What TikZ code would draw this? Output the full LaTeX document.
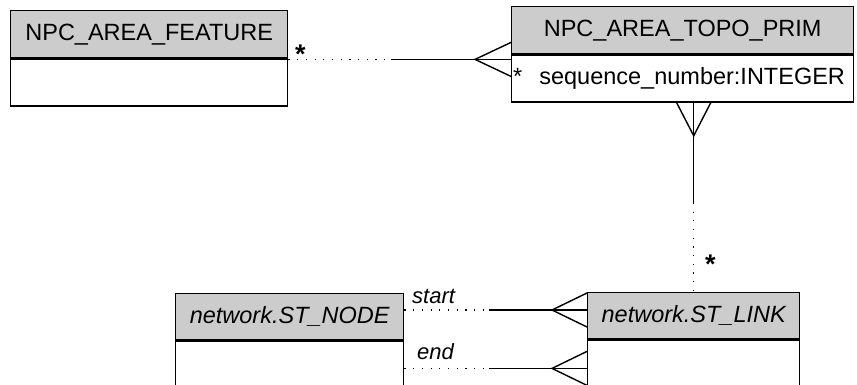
\documentclass[tikz,border=0pt]{standalone}
\usepackage{fontspec}
\setmainfont{Liberation Sans}
\usetikzlibrary{calc}
\definecolor{hdrgray}{HTML}{CCCCCC}
\begin{document}
\begin{tikzpicture}[x=1pt,y=-1pt,
  boxline/.style={draw=black, line width=1.4pt},
  hdr/.style={boxline, fill=hdrgray, inner sep=0pt, anchor=north west,
    font=\fontsize{23.5}{27}\selectfont},
  bodybox/.style={boxline, fill=white, inner sep=0pt, anchor=north west},
  solidline/.style={draw=black, line width=1.4pt},
  dotline/.style={draw=black, line width=1.2pt, dash pattern=on 1.2pt off 7.5pt},
  lbl/.style={inner sep=0pt, anchor=base west, font=\fontsize{22}{26}\selectfont\itshape},
  mult/.style={inner sep=0pt, anchor=base west, font=\fontsize{27}{30}\selectfont\bfseries}]
\path[use as bounding box] (0,0) rectangle (857,385);
\clip (0,0) rectangle (857,385);

% NPC_AREA_FEATURE
\node[hdr, minimum width=277pt, minimum height=47pt] (feathead) at (10,10) {NPC\_AREA\_FEATURE};
\node[bodybox, minimum width=277pt, minimum height=47pt] (featbody) at (feathead.south west) {};

% NPC_AREA_TOPO_PRIM
\node[hdr, minimum width=342pt, minimum height=47pt] (topohead) at (511,6) {NPC\_AREA\_TOPO\_PRIM};
\node[bodybox, minimum width=342pt, minimum height=47pt] (topobody) at (topohead.south west) {};
\node[inner sep=0pt, anchor=west, font=\fontsize{23.5}{27}\selectfont] (seqattr) at ($(topobody.west)+(2,0)$) {*\hspace{17pt}sequence\_number:INTEGER};

% network.ST_NODE
\node[hdr, minimum width=228pt, minimum height=46pt, font=\fontsize{23.5}{27}\selectfont\itshape] (nodehead) at (175,293) {network.ST\_NODE};
\node[bodybox, minimum width=228pt, minimum height=80pt] (nodebody) at (nodehead.south west) {};

% network.ST_LINK
\node[hdr, minimum width=212pt, minimum height=46pt, font=\fontsize{23.5}{27}\selectfont\itshape] (linkhead) at (587,292) {network.ST\_LINK};
\node[bodybox, minimum width=212pt, minimum height=80pt] (linkbody) at (linkhead.south west) {};

% connector FEATURE -- TOPO
\coordinate (e1) at ($(topobody.north west)+(0,5)$);
\coordinate (b1) at (feathead.south east |- e1);
\draw[dotline] (b1) -- ++(103,0) coordinate (s1);
\draw[solidline] (s1) -- (e1);
\draw[solidline] ($(e1)+(0,-17)$) -- ($(e1)+(-36,0)$) -- ($(e1)+(0,17)$);
\node[mult] (m1) at (295,64) {*};

% connector TOPO -- ST_LINK
\coordinate (e2) at (topobody.south -| linkhead.north);
\draw[solidline] (e2) -- ++(0,100) coordinate (s2);
\draw[dotline] (s2) -- (linkhead.north);
\draw[solidline] ($(e2)+(-17,0)$) -- ($(e2)+(0,33)$) -- ($(e2)+(17,0)$);
\node[mult] (m2) at (705,273) {*};

% connector ST_NODE -- ST_LINK (start)
\coordinate (e3) at ($(linkhead.north west)+(0,18)$);
\coordinate (b3) at (nodehead.east |- e3);
\draw[dotline] (b3) -- ++(85,0) coordinate (s3);
\draw[solidline] (s3) -- (e3);
\draw[solidline] ($(e3)+(0,-17)$) -- ($(e3)+(-35,0)$) -- ($(e3)+(0,17)$);
\node[lbl] (startlbl) at (412,303) {start};

% connector ST_NODE -- ST_LINK (end)
\coordinate (e4) at ($(linkbody.north west)+(0,29)$);
\coordinate (b4) at (nodebody.east |- e4);
\draw[dotline] (b4) -- ++(85,0) coordinate (s4);
\draw[solidline] (s4) -- (e4);
\draw[solidline] ($(e4)+(0,-17)$) -- ($(e4)+(-35,0)$) -- ($(e4)+(0,17)$);
\node[lbl] (endlbl) at (417,359) {end};
\end{tikzpicture}
\end{document}
